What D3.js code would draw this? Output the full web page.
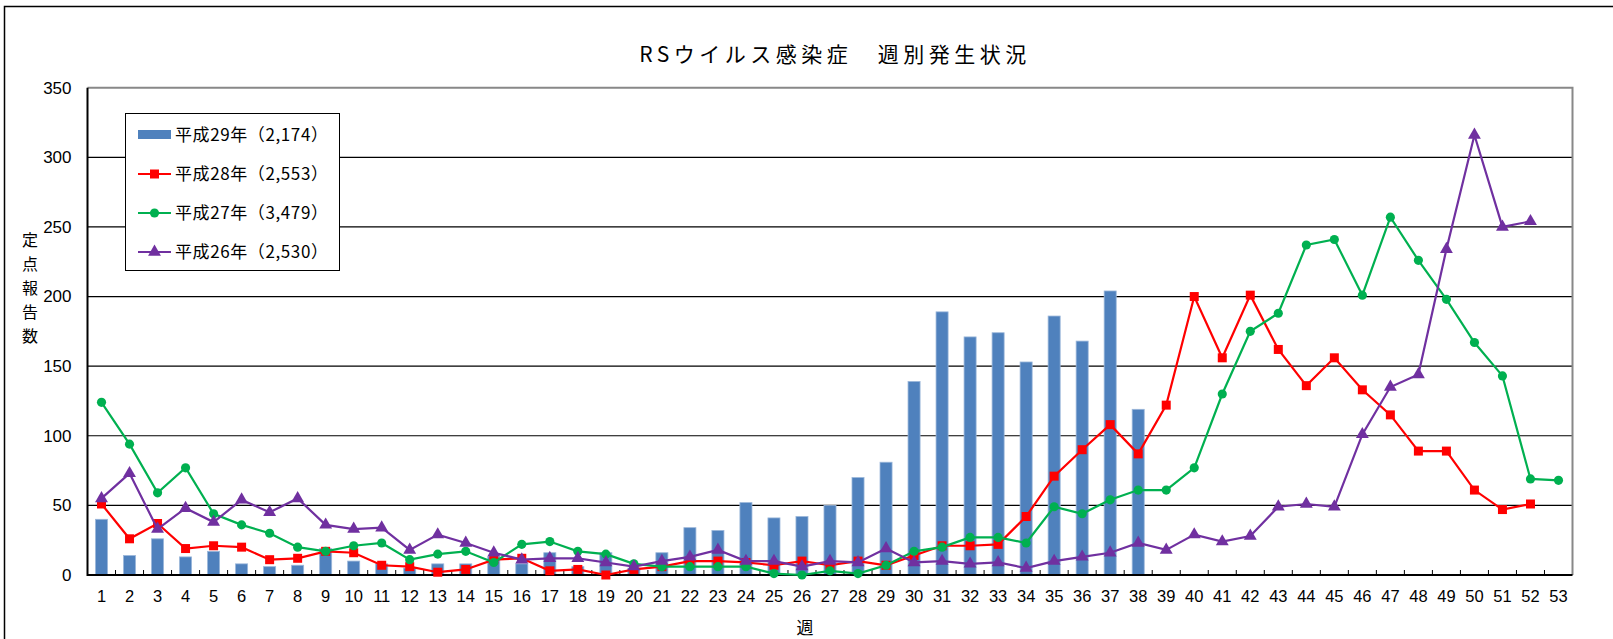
<!DOCTYPE html>
<html>
<head>
<meta charset="utf-8">
<script src="https://cdn.jsdelivr.net/npm/d3@7"></script>
<style>
  body { margin: 0; background: #fff; }
  svg { display: block; font-family: "Liberation Sans", "Noto Sans CJK JP", sans-serif; }
  .jp { font-family: "Noto Sans CJK JP", sans-serif; }
</style>
</head>
<body>
<svg id="chart" width="1613" height="639"></svg>
<script>
  // 週別 定点報告数
  let weeks = d3.range(1, 54)
  let yTicks = [0, 50, 100, 150, 200, 250, 300, 350]

  let h29 = [40, 14, 26, 13, 17, 8, 6, 7, 19, 10, 8, 5, 8, 8, 13, 8, 16, 6, 16, 5,
    16, 34, 32, 52, 41, 42, 50, 70, 81, 139, 189, 171, 174, 153, 186, 168, 204, 119]
  let h28 = [51, 26, 37, 19, 21, 20, 11, 12, 17, 16, 7, 6, 2, 4, 11, 12, 3, 4, 0, 4,
    6, 10, 10, 9, 7, 10, 7, 10, 7, 14, 21, 21, 22, 42, 71, 90, 108, 87, 122, 200,
    156, 201, 162, 136, 156, 133, 115, 89, 89, 61, 47, 51]
  let h27 = [124, 94, 59, 77, 44, 36, 30, 20, 17, 21, 23, 11, 15, 17, 9, 22, 24, 17, 15, 8,
    6, 6, 6, 6, 1, 0, 3, 1, 7, 17, 20, 27, 27, 23, 49, 44, 54, 61, 61, 77,
    130, 175, 188, 237, 241, 201, 257, 226, 198, 167, 143, 69, 68]
  let h26 = [55, 73, 33, 48, 38, 54, 45, 55, 36, 33, 34, 18, 29, 23, 16, 11, 12, 12, 9, 6,
    10, 13, 18, 10, 10, 6, 10, 9, 19, 9, 10, 8, 9, 5, 10, 13, 16, 23, 18, 29,
    24, 28, 49, 51, 49, 101, 135, 144, 234, 316, 250, 254]

  let legendLabels = ['平成29年（2,174）', '平成28年（2,553）', '平成27年（3,479）', '平成26年（2,530）']

  let svg = d3.select('#chart')
  let plotLeft = 87.5, plotRight = 1572.5, plotTop = 87.7, plotBottom = 575

  let x = d3.scaleBand()
    .domain(weeks)
    .range([plotLeft, plotRight])
    .paddingInner(0.57)
    .paddingOuter(0.285)

  let y = d3.scaleLinear()
    .domain([0, 350])
    .range([plotBottom, plotTop])

  let cx = w => x(w) + x.bandwidth() / 2

  // outer frame
  svg.append('rect')
    .attr('x', 4.5).attr('y', 6.5)
    .attr('width', 1700).attr('height', 800)
    .attr('fill', 'none').attr('stroke', '#000').attr('stroke-width', 1.5)

  // title
  svg.append('text')
    .attr('class', 'jp')
    .attr('x', 835).attr('y', 62)
    .attr('text-anchor', 'middle')
    .attr('font-size', 21)
    .attr('letter-spacing', 4.5)
    .text('RSウイルス感染症\u3000週別発生状況')

  // gridlines
  svg.append('g')
    .selectAll('line')
    .data(yTicks.filter(d => d > 0 && d < 350))
    .enter()
    .append('line')
    .attr('x1', plotLeft).attr('x2', plotRight)
    .attr('y1', d => y(d)).attr('y2', d => y(d))
    .attr('stroke', '#000').attr('stroke-width', 1.2)

  // plot border top/right
  svg.append('path')
    .attr('d', `M${plotLeft},${plotTop}H${plotRight}V${plotBottom}`)
    .attr('fill', 'none').attr('stroke', '#888').attr('stroke-width', 2)

  // bars
  svg.append('g')
    .selectAll('rect')
    .data(h29)
    .enter()
    .append('rect')
    .attr('x', (d, i) => x(weeks[i]))
    .attr('y', d => y(d))
    .attr('width', x.bandwidth())
    .attr('height', d => plotBottom - y(d))
    .attr('fill', '#4f81bd')
    .attr('stroke', '#9bb7da')
    .attr('stroke-width', 0.8)

  // axes
  let xAxis = svg.append('g')
    .attr('transform', `translate(0,${plotBottom})`)
    .call(d3.axisBottom(x).tickSize(0).tickPadding(15))
  xAxis.select('.domain').remove()
  xAxis.selectAll('text').attr('font-size', 16.5).attr('fill', '#000')

  let step = x.step()
  svg.append('g')
    .selectAll('line')
    .data(weeks.slice(1))
    .enter()
    .append('line')
    .attr('x1', d => x(d) - step * x.paddingInner() / 2)
    .attr('x2', d => x(d) - step * x.paddingInner() / 2)
    .attr('y1', plotBottom).attr('y2', plotBottom - 5)
    .attr('stroke', '#000').attr('stroke-width', 1)

  let yAxis = svg.append('g')
    .attr('transform', `translate(${plotLeft},0)`)
    .call(d3.axisLeft(y).tickValues(yTicks).tickSize(0).tickPadding(16))
  yAxis.select('.domain').remove()
  yAxis.selectAll('text').attr('font-size', 17).attr('fill', '#000')

  svg.append('path')
    .attr('d', `M${plotLeft},${plotTop}V${plotBottom}H${plotRight}`)
    .attr('fill', 'none').attr('stroke', '#000').attr('stroke-width', 2)

  // axis titles
  svg.append('g')
    .selectAll('text')
    .data('定点報告数'.split(''))
    .enter()
    .append('text')
    .attr('class', 'jp')
    .attr('x', 30)
    .attr('y', (d, i) => 246 + i * 24)
    .attr('text-anchor', 'middle')
    .attr('font-size', 16)
    .text(d => d)

  svg.append('text')
    .attr('class', 'jp')
    .attr('x', 805).attr('y', 634)
    .attr('text-anchor', 'middle')
    .attr('font-size', 17)
    .text('週')

  // line series
  let series = [
    { values: h28, color: '#ff0000', shape: d3.symbolSquare, size: 81 },
    { values: h27, color: '#00b050', shape: d3.symbolCircle, size: 66 },
    { values: h26, color: '#7030a0', shape: d3.symbolTriangle, size: 72 }
  ]

  let line = d3.line()
    .x((d, i) => cx(weeks[i]))
    .y(d => y(d))

  series.forEach(s => {
    let g = svg.append('g')
    g.append('path')
      .attr('d', line(s.values))
      .attr('fill', 'none')
      .attr('stroke', s.color)
      .attr('stroke-width', 2.2)
    g.selectAll('path.mark')
      .data(s.values)
      .enter()
      .append('path')
      .attr('class', 'mark')
      .attr('transform', (d, i) => `translate(${cx(weeks[i])},${y(d)})`)
      .attr('d', d3.symbol().type(s.shape).size(s.size))
      .attr('fill', s.color)
  })

  // legend
  let legend = svg.append('g')
  legend.append('rect')
    .attr('x', 125.5).attr('y', 113.5)
    .attr('width', 214).attr('height', 157)
    .attr('fill', '#fff').attr('stroke', '#000').attr('stroke-width', 1)

  let rows = legend.selectAll('g.row')
    .data(legendLabels)
    .enter()
    .append('g')
    .attr('class', 'row')
    .attr('transform', (d, i) => `translate(0,${135 + i * 39})`)

  rows.append('text')
    .attr('class', 'jp')
    .attr('x', 175).attr('y', 6)
    .attr('font-size', 17)
    .attr('letter-spacing', 0.6)
    .text(d => d)

  rows.filter((d, i) => i === 0)
    .append('rect')
    .attr('x', 138).attr('y', -5)
    .attr('width', 33).attr('height', 9)
    .attr('fill', '#4f81bd')

  rows.filter((d, i) => i > 0)
    .each(function (d, i) {
      let s = series[i]
      let r = d3.select(this)
      r.append('line')
        .attr('x1', 138).attr('x2', 171)
        .attr('y1', 0).attr('y2', 0)
        .attr('stroke', s.color).attr('stroke-width', 2.2)
      r.append('path')
        .attr('transform', 'translate(154.5,0)')
        .attr('d', d3.symbol().type(s.shape).size(s.size))
        .attr('fill', s.color)
    })
</script>
</body>
</html>
